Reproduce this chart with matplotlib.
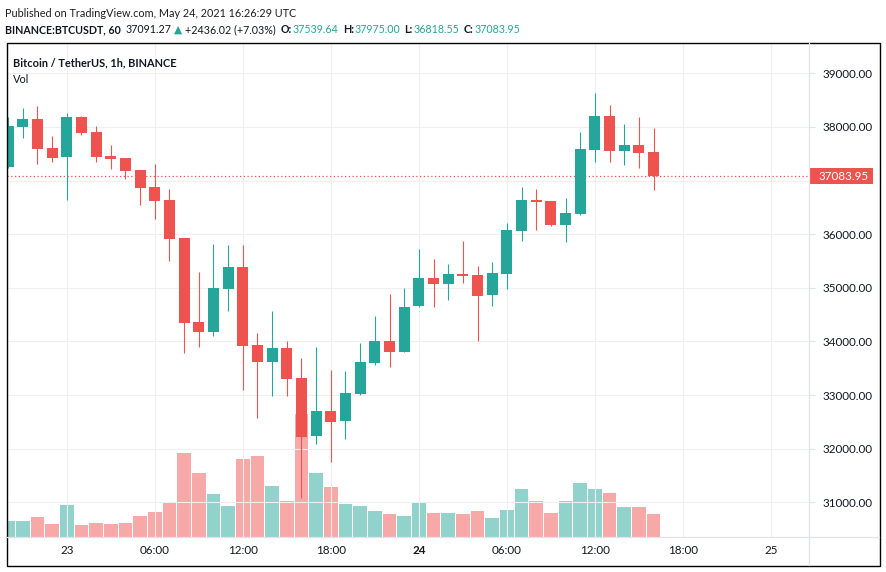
import matplotlib
matplotlib.use("Agg")
import matplotlib.pyplot as plt
from matplotlib import font_manager
from matplotlib.patches import Rectangle
from matplotlib.lines import Line2D
from matplotlib.transforms import blended_transform_factory

# =====================================================
# データ (時刻 = 5/23 00:00 からの経過時間[h])
# =====================================================
hours = list(range(-4, 41))

opens = [37250, 38004, 38147, 37600, 37444, 38185, 37900, 37460, 37420, 37196,
         36880, 36635, 35927, 34360, 34180, 34981, 35390, 33931, 33619, 33875,
         33315, 32228, 32700, 32519, 33022, 33601, 34006, 33806, 34664, 35181,
         35075, 35262, 35237, 34870, 35261, 36063, 36636, 36617, 36175, 36375,
         37569, 38203, 37550, 37662, 37539.64]
highs = [38185, 38353, 38390, 37830, 38259, 38210, 38017, 37662, 37425, 37200,
         37308, 36841, 35930, 35293, 35815, 35797, 35797, 34155, 34565, 34006,
         33688, 33894, 33464, 33446, 33968, 34472, 34882, 34994, 35722, 35535,
         35442, 35872, 35405, 35479, 36207, 36879, 36841, 36620, 36673, 37905,
         38632, 38409, 38054, 38185, 37975.00]
lows = [37240, 37799, 37313, 37350, 36642, 37850, 37351, 37220, 37034, 36549,
        36287, 35504, 33787, 33899, 34104, 34571, 33097, 32575, 32985, 32985,
        31082, 32090, 31754, 32183, 33010, 33563, 33526, 33800, 34646, 34646,
        34776, 35093, 34006, 34664, 34981, 35877, 36082, 36157, 35858, 36356,
        37345, 37345, 37289, 37233, 36818.55]
closes = [38017, 38147, 37593, 37425, 38185, 37892, 37444, 37410, 37183, 36866,
          36623, 35914, 34347, 34180, 34994, 35390, 33918, 33619, 33875, 33302,
          32227, 32700, 32500, 33036, 33614, 34006, 33806, 34640, 35181, 35075,
          35256, 35224, 34851, 35274, 36076, 36636, 36600, 36175, 36393, 37588,
          38203, 37550, 37662, 37513, 37083.95]
volumes = [3120, 3120, 4060, 2660, 6460, 2460, 2860, 2660, 2860, 4260,
           5060, 6860, 16860, 12860, 8660, 6260, 15660, 16260, 10260, 7260,
           24660, 12860, 10060, 6660, 6260, 5260, 4660, 4260, 6860, 4860,
           4860, 4660, 5260, 3860, 5460, 9660, 7260, 4860, 7260, 10860,
           9660, 8860, 6060, 6060, 4660]

tick_hours = [0, 6, 12, 18, 24, 30, 36, 42, 48]
tick_labels = ["23", "06:00", "12:00", "18:00", "24", "06:00", "12:00", "18:00", "25"]
price_ticks = [31000, 32000, 33000, 34000, 35000, 36000, 37000, 38000, 39000]
last_price = 37083.95

# =====================================================
# 設定
# =====================================================
W, H = 886, 572
UP, DOWN = "#26a69a", "#ef5350"
UP_VOL, DOWN_VOL = "#92d2cc", "#f7a9a7"
TEXT = "#131722"
GRID = "#efefef"
SEP = "#e0e3eb"

plt.rcParams["font.family"] = ["Lato", "DejaVu Sans"]

# 見出し用(細めのフォントがあれば使う)
names = {f.name for f in font_manager.fontManager.ttflist}
HEAD_FONT = "Liberation Sans Narrow" if "Liberation Sans Narrow" in names else "Lato"

fig = plt.figure(figsize=(W / 100, H / 100), dpi=100)
fig.patch.set_facecolor("white")
renderer = fig.canvas.get_renderer()


def px_rect(x0, y0, x1, y1):
    """ピクセル座標(左上原点) → figure座標"""
    return [x0 / W, 1 - y1 / H, (x1 - x0) / W, (y1 - y0) / H]


def text_run(x, y, parts, width):
    """色・太さの違う文字列を横に並べる(全体幅をwidthに合わせる)"""
    ts, ws, gaps = [], [], []
    for s, c, wgt, gap in parts:
        t = fig.text(0, 0, s, fontsize=10, color=c, fontweight=wgt, va="baseline",
                     family=[HEAD_FONT, "DejaVu Sans"])
        ts.append(t)
        ws.append(t.get_window_extent(renderer).width)
        gaps.append(gap)
    k = (width - sum(gaps)) / sum(ws)
    for t, w, g in zip(ts, ws, gaps):
        t.set_fontsize(10 * k)
        t.set_position((x / W, 1 - y / H))
        x += w * k + g
    return 10 * k


# -------------------------------
# 出来高(下に描く)
# -------------------------------
rect = px_rect(7, 43, 809, 537)
axv = fig.add_axes(rect)
vol_colors = [UP_VOL if c >= o else DOWN_VOL for o, c in zip(opens, closes)]
axv.bar(hours, volumes, width=0.93, color=vol_colors, linewidth=0)
axv.set_ylim(0, 98800)
axv.set_xlim(-4.07, 50.59)
axv.axis("off")

# -------------------------------
# ローソク足
# -------------------------------
ax = fig.add_axes(rect)
ax.set_facecolor("none")
ax.set_xlim(-4.07, 50.59)
ax.set_ylim(30353, 39565)

colors = [UP if c >= o else DOWN for o, c in zip(opens, closes)]
ax.vlines(hours, lows, highs, colors=colors, linewidth=0.8, zorder=3)
bottoms = [min(o, c) for o, c in zip(opens, closes)]
heights = [max(abs(c - o), 25) for o, c in zip(opens, closes)]
ax.bar(hours, heights, bottom=bottoms, width=0.75, color=colors, linewidth=0, zorder=4)

# 最終価格の点線
ax.axhline(last_price, color=DOWN, linestyle=(0, (1, 2)), linewidth=0.9, zorder=2)

ax.set_axisbelow(True)
ax.grid(True, color=GRID, linewidth=0.8)
for s in ax.spines.values():
    s.set_visible(False)

ax.set_xticks(tick_hours)
ax.set_xticklabels(tick_labels)
ax.tick_params(axis="x", length=0, pad=6, labelsize=8.4, labelcolor=TEXT)
for lbl in ax.get_xticklabels():
    if lbl.get_text() == "24":
        lbl.set_fontweight("bold")

ax.yaxis.tick_right()
ax.set_yticks(price_ticks)
ax.set_yticklabels(["" if p == 37000 else f"{p:.2f}" for p in price_ticks])
ax.tick_params(axis="y", length=4, width=0.8, color=SEP, pad=6,
               labelsize=8.4, labelcolor=TEXT)

# 最終価格ラベル
tr = blended_transform_factory(ax.transAxes, ax.transData)
box_h = 16 / 494 * (39565 - 30353)
ax.add_patch(Rectangle((1.0, last_price - box_h / 2), 64 / 802, box_h,
                       transform=tr, facecolor=DOWN, edgecolor="none",
                       clip_on=False, zorder=5))
ax.text(1.0 + 10 / 802, last_price, f"{last_price:.2f}", transform=tr,
        color="white", fontsize=8.4, va="center", ha="left", zorder=6)

# -------------------------------
# 枠・区切り線
# -------------------------------
fig.add_artist(Line2D([809 / W, 809 / W], [1 - 43 / H, 1 - 565 / H], color=SEP, linewidth=0.9))
fig.add_artist(Line2D([7 / W, 879 / W], [1 - 537 / H, 1 - 537 / H], color=SEP, linewidth=0.9))
fig.add_artist(Rectangle((6.5 / W, 1 - 565.5 / H), 873 / W, 523 / H,
                         transform=fig.transFigure, fill=False,
                         edgecolor="black", linewidth=1.0))

# -------------------------------
# 文字
# -------------------------------
text_run(5, 17, [("Published on TradingView.com, May 24, 2021 16:26:29 UTC", "#1e1e1e", "normal", 0)], 291)
text_run(5, 33, [
    ("BINANCE:BTCUSDT, 60", TEXT, "bold", 4),
    ("37091.27", TEXT, "normal", 3),
    ("▲", UP, "normal", 3),
    ("+2436.02 (+7.03%)", TEXT, "normal", 5),
    ("O:", TEXT, "bold", 1), ("37539.64", UP, "normal", 4),
    ("H:", TEXT, "bold", 1), ("37975.00", UP, "normal", 4),
    ("L:", TEXT, "bold", 1), ("36818.55", UP, "normal", 4),
    ("C:", TEXT, "bold", 1), ("37083.95", UP, "normal", 0),
], 515)
title_size = text_run(13, 66, [("Bitcoin / TetherUS, 1h, BINANCE", TEXT, "bold", 0)], 164)
fig.text(13 / W, 1 - 83 / H, "Vol", fontsize=title_size, color=TEXT, va="baseline",
         family=[HEAD_FONT, "DejaVu Sans"])

fig.savefig("out.png", dpi=100, facecolor="white")
